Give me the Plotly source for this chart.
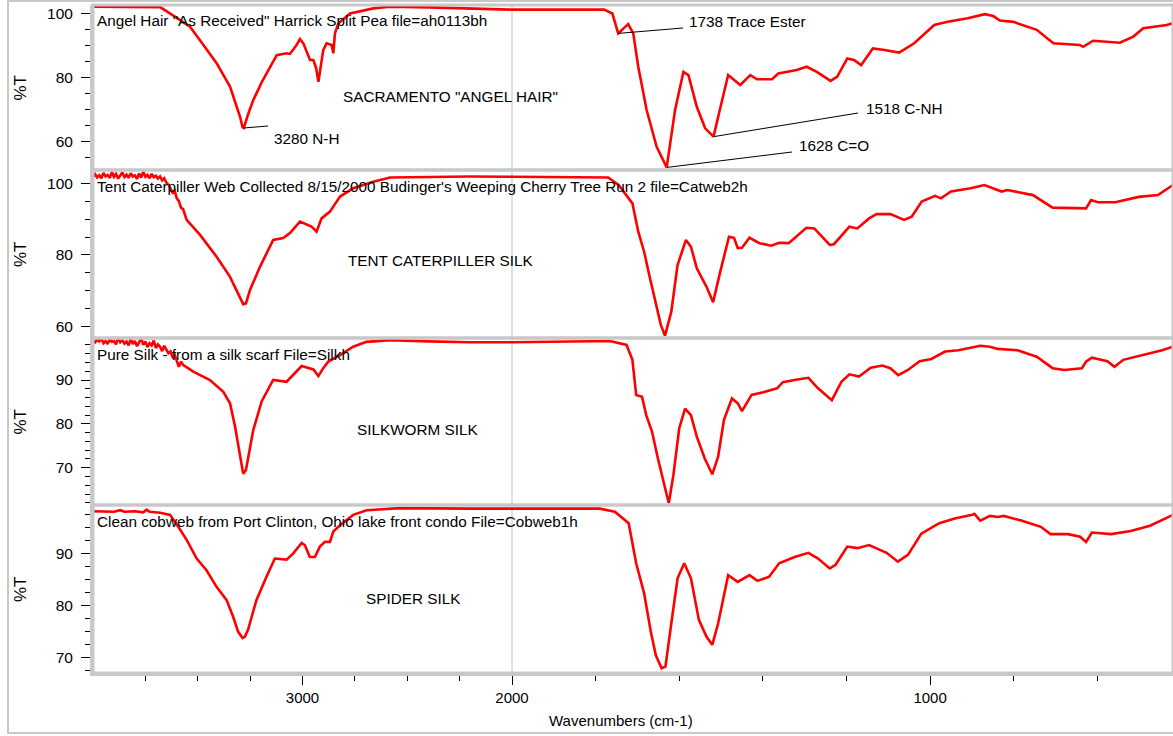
import plotly.graph_objects as go

# ---------------- data ----------------
angel_wn = [4000, 3900, 3800, 3700, 3680, 3620, 3537, 3473, 3410, 3346, 3298, 3286, 3280, 3260, 3235,
            3195, 3155, 3123, 3076, 3060, 3030, 3012, 2996, 2964, 2948, 2935, 2924, 2910, 2901, 2885,
            2861, 2853, 2845, 2829, 2773, 2662, 2582, 2400, 2200, 2000, 1850, 1780, 1760, 1746, 1722,
            1710, 1698, 1678, 1654, 1630, 1610, 1590, 1578, 1558, 1538, 1518, 1503, 1483, 1454, 1430,
            1414, 1378, 1363, 1319, 1295, 1271, 1238, 1222, 1198, 1182, 1165, 1137, 1109, 1074, 1038,
            990, 958, 910, 869, 849, 833, 801, 745, 705, 642, 634, 610, 546, 514, 490, 434, 419]
angel_t = [102.1, 102.1, 102.1, 102.1, 102.0, 99.5, 95.9, 90.2, 84.5, 77.2, 67.8, 64.5, 64.3, 68.5, 73.0,
           78.5, 83.4, 87.0, 87.6, 87.4, 90.0, 92.0, 90.7, 85.5, 85.5, 83.0, 78.7, 85.0, 88.6, 90.7,
           90.2, 87.6, 93.8, 96.9, 100.0, 101.6, 102.1, 101.9, 101.5, 101.2, 101.3, 101.2, 100.0, 93.8, 96.7,
           93.8, 83.4, 69.9, 58.4, 52.0, 69.9, 81.8, 80.8, 70.9, 64.2, 61.6, 69.9, 80.8, 77.7, 80.8,
           79.5, 79.5, 81.3, 82.4, 83.4, 81.8, 79.0, 80.3, 86.0, 85.5, 83.9, 89.1, 88.6, 87.8, 90.7,
           96.4, 97.4, 98.5, 99.8, 99.2, 97.8, 97.4, 94.9, 90.7, 90.2, 89.6, 91.5, 90.9, 92.8, 95.4, 96.4, 97.0]

tent_wn = [4000, 3990, 3980, 3970, 3960, 3950, 3940, 3930, 3920, 3910, 3900, 3890, 3880, 3870, 3860,
           3850, 3840, 3830, 3820, 3810, 3800, 3790, 3780, 3770, 3760, 3750, 3740, 3730, 3720, 3710,
           3700, 3690, 3680, 3670, 3660, 3650, 3640, 3630, 3620, 3610, 3600, 3590, 3580, 3570, 3560,
           3553, 3489, 3410, 3346, 3306, 3283, 3270, 3251, 3203, 3140, 3092, 3060, 3012, 2989, 2957,
           2933, 2909, 2869, 2853, 2821, 2758, 2662, 2582, 2400, 2200, 2000, 1850, 1770, 1745, 1712,
           1698, 1684, 1670, 1656, 1644, 1634, 1619, 1604, 1584, 1572, 1558, 1535, 1519, 1502, 1481,
           1469, 1460, 1450, 1432, 1408, 1380, 1361, 1338, 1296, 1277, 1240, 1230, 1193, 1174, 1146,
           1128, 1095, 1062, 1044, 1020, 988, 974, 950, 903, 870, 847, 829, 815, 754, 707,
           641, 627, 615, 599, 557, 501, 455, 419]
tent_t = [101.8, 102.5, 101.6, 102.2, 101.4, 102.9, 101.9, 102.3, 101.5, 103.1, 101.8, 102.6, 101.3, 102.0, 103.0,
          101.7, 102.4, 101.5, 102.8, 101.9, 102.2, 101.2, 102.7, 101.6, 103.2, 101.8, 102.3, 101.4, 102.6, 101.7,
          102.1, 101.3, 101.9, 100.8, 101.4, 100.2, 99.6, 98.5, 97.4, 97.9, 95.8, 95.0, 93.2, 92.8, 90.6,
          89.8, 85.6, 79.5, 73.9, 69.3, 66.3, 66.5, 70.2, 76.7, 84.2, 84.7, 86.1, 89.3, 88.8, 87.9,
          86.5, 90.2, 92.1, 93.5, 96.3, 98.6, 100.4, 101.6, 101.7, 101.9, 101.8, 101.8, 101.6, 99.5, 94.4,
          86.5, 80.9, 73.5, 66.1, 60.5, 57.5, 64.2, 77.2, 84.2, 82.3, 76.3, 71.2, 66.8, 75.3, 85.1,
          84.8, 81.9, 82.0, 84.8, 83.3, 82.6, 83.4, 83.3, 87.6, 87.4, 82.8, 83.0, 87.9, 87.4, 90.2,
          91.4, 91.4, 89.8, 90.7, 94.9, 96.5, 95.8, 97.7, 98.6, 99.5, 98.6, 97.7, 98.1, 96.7, 93.2,
          93.2, 93.0, 95.3, 94.7, 94.7, 96.2, 96.7, 99.5]

silk_wn = [4000, 3990, 3980, 3970, 3960, 3950, 3940, 3930, 3920, 3910, 3900, 3890, 3880, 3870, 3860,
           3850, 3840, 3830, 3820, 3810, 3800, 3790, 3780, 3770, 3760, 3750, 3740, 3730, 3720, 3710,
           3700, 3690, 3680, 3670, 3660, 3650, 3640, 3630, 3620, 3610, 3600, 3590, 3580, 3569, 3521,
           3442, 3378, 3346, 3322, 3298, 3283, 3270, 3259, 3235, 3195, 3140, 3076, 3044, 3004, 2948,
           2924, 2901, 2877, 2821, 2758, 2695, 2582, 2400, 2200, 2000, 1850, 1766, 1726, 1712, 1703,
           1689, 1679, 1665, 1651, 1637, 1625, 1614, 1600, 1586, 1572, 1558, 1539, 1521, 1507, 1493,
           1474, 1460, 1450, 1427, 1399, 1366, 1352, 1324, 1291, 1268, 1235, 1212, 1193, 1170, 1142,
           1114, 1095, 1076, 1053, 1025, 997, 964, 932, 880, 857, 838, 791, 745, 707, 679,
           637, 627, 613, 576, 559, 538, 482, 445, 419]
silk_t = [99.0, 98.6, 99.2, 98.8, 99.5, 98.4, 98.9, 98.2, 99.3, 98.7, 98.9, 98.1, 99.7, 98.6, 99.1,
          98.3, 98.8, 97.9, 99.4, 98.2, 98.9, 97.7, 98.6, 99.6, 98.0, 98.8, 97.5, 98.4, 97.9, 99.0,
          97.3, 98.1, 97.6, 96.6, 97.8, 96.9, 96.1, 96.5, 95.2, 95.7, 94.4, 93.0, 94.2, 93.4, 91.9,
          90.0, 87.3, 84.7, 79.4, 72.5, 68.6, 69.5, 72.5, 78.6, 85.1, 90.0, 89.6, 91.1, 93.2, 92.4,
          90.9, 92.7, 94.2, 95.7, 97.6, 98.7, 99.1, 98.8, 98.6, 98.6, 98.7, 98.9, 98.0, 94.6, 86.6,
          86.2, 82.0, 78.2, 72.1, 66.8, 61.9, 68.3, 79.0, 83.5, 82.0, 77.1, 72.1, 68.5, 72.5, 80.9,
          85.8, 84.7, 82.9, 86.6, 87.2, 88.1, 89.5, 90.0, 90.5, 88.1, 85.4, 89.6, 91.3, 90.8, 92.8,
          93.3, 92.7, 91.1, 92.3, 94.3, 94.8, 96.5, 96.8, 97.8, 97.6, 97.1, 96.8, 95.3, 92.7, 92.3,
          92.7, 94.2, 95.1, 94.3, 93.0, 94.6, 95.9, 96.8, 97.6]

spider_wn = [4000, 3950, 3900, 3870, 3850, 3800, 3760, 3744, 3730, 3680, 3632, 3593, 3553, 3505, 3459,
             3411, 3362, 3331, 3307, 3286, 3275, 3260, 3220, 3172, 3132, 3076, 3044, 3004, 2989, 2965,
             2941, 2917, 2893, 2869, 2853, 2821, 2758, 2694, 2535, 2200, 2000, 1850, 1790, 1754, 1721,
             1703, 1684, 1668, 1656, 1642, 1633, 1619, 1604, 1588, 1572, 1553, 1535, 1521, 1507, 1483,
             1460, 1432, 1413, 1385, 1361, 1324, 1291, 1268, 1240, 1226, 1198, 1174, 1146, 1104, 1077,
             1053, 1021, 978, 941, 899, 894, 880, 857, 838, 824, 782, 735, 712, 670, 641,
             627, 613, 567, 520, 474, 419]
spider_t = [98.1, 98.1, 98.0, 98.3, 98.0, 98.1, 97.9, 98.4, 98.0, 97.8, 97.4, 95.1, 92.6, 89.0, 86.8,
            83.6, 81.0, 77.8, 74.9, 73.7, 74.0, 75.3, 81.0, 85.5, 89.0, 88.8, 90.0, 92.0, 91.6, 89.3,
            89.3, 91.3, 92.2, 92.2, 94.2, 95.4, 97.4, 98.3, 98.7, 98.6, 98.6, 98.6, 98.6, 98.0, 95.8,
            88.1, 82.3, 74.9, 70.4, 67.9, 68.2, 76.5, 85.2, 88.1, 85.2, 77.2, 74.0, 72.4, 76.5, 85.8,
            84.5, 85.8, 84.7, 85.5, 88.1, 89.3, 90.1, 89.0, 87.1, 87.8, 91.3, 91.0, 91.6, 90.1, 88.4,
            89.7, 93.8, 95.8, 96.7, 97.4, 97.6, 96.3, 97.2, 97.0, 97.2, 96.3, 95.1, 93.7, 93.7, 93.2,
            92.2, 94.0, 93.7, 94.3, 95.3, 97.4]

panel_titles = ['Angel Hair "As Received" Harrick Split Pea file=ah0113bh',
                "Tent Caterpiller Web Collected 8/15/2000 Budinger's Weeping Cherry Tree Run 2 file=Catweb2h",
                "Pure Silk - from a silk scarf File=Silkh",
                "Clean cobweb from Port Clinton, Ohio lake front condo File=Cobweb1h"]
panel_names = ['SACRAMENTO "ANGEL HAIR"', "TENT CATERPILLER SILK", "SILKWORM SILK", "SPIDER SILK"]

peak_labels = [(3280, "3280 N-H"), (1746, "1738 Trace Ester"), (1518, "1518 C-NH"), (1630, "1628 C=O")]

# ---------------- layout geometry ----------------
W, H = 1173, 736
ML, MR, MT, MB = 93, 0, 5, 63
PW = W - ML - MR
PH = H - MT - MB


def fx(xp):
    return (xp - ML) / PW


def fy(yp):
    return (H - MB - yp) / PH


SPLIT = fx(512)
FONT = "Liberation Sans, Arial, sans-serif"
GRAY = "#c8c8c8"
TXT = 15.3

panels = [
    dict(wn=angel_wn, t=angel_t, top=5, bot=170, yr=[51.2, 102.65], dt=20, mdt=5),
    dict(wn=tent_wn, t=tent_t, top=170, bot=338, yr=[56.85, 103.7], dt=20, mdt=5),
    dict(wn=silk_wn, t=silk_t, top=338, bot=505, yr=[61.5, 99.58], dt=10, mdt=2),
    dict(wn=spider_wn, t=spider_t, top=505, bot=673, yr=[66.98, 99.3], dt=10, mdt=2.5),
]


def axname(kind, n):
    return kind + "axis" + ("" if n == 1 else str(n))


def axref(kind, n):
    return kind + ("" if n == 1 else str(n))


fig = go.Figure()
layout = dict(width=W, height=H, margin=dict(l=ML, r=MR, t=MT, b=MB, autoexpand=False),
              paper_bgcolor="white", plot_bgcolor="white", showlegend=False,
              font=dict(family=FONT, size=14, color="black"))
shapes, annotations = [], []

for i, p in enumerate(panels):
    xl, xr, yn = 2 * i + 1, 2 * i + 2, i + 1
    last = i == len(panels) - 1
    left = [(w, t) for w, t in zip(p["wn"], p["t"]) if w >= 2000]
    right = [(w, t) for w, t in zip(p["wn"], p["t"]) if w <= 2000]
    line = dict(color="#ff0000", width=2.6)
    fig.add_trace(go.Scatter(x=[a for a, _ in left], y=[b for _, b in left], mode="lines", line=line,
                             xaxis=axref("x", xl), yaxis=axref("y", yn), hoverinfo="skip"))
    fig.add_trace(go.Scatter(x=[a for a, _ in right], y=[b for _, b in right], mode="lines", line=line,
                             xaxis=axref("x", xr), yaxis=axref("y", yn), hoverinfo="skip"))
    dom = [fy(p["bot"]), fy(p["top"])]
    xcommon = dict(showgrid=False, zeroline=False, anchor=axref("y", yn), fixedrange=True, automargin=False)
    if last:
        layout[axname("x", xl)] = dict(
            domain=[0, SPLIT], range=[4000, 2000], **xcommon,
            showline=True, linecolor=GRAY, linewidth=3,
            ticks="outside", ticklen=9, tickcolor="black", tickwidth=1,
            tickmode="array", tickvals=[3000], ticktext=["3000"],
            tickfont=dict(size=15, family=FONT, color="black"),
            minor=dict(tickmode="array", tickvals=[3750, 3500, 3250, 2750, 2500, 2250],
                       ticks="outside", ticklen=5, tickcolor="black", tickwidth=1))
        layout[axname("x", xr)] = dict(
            domain=[SPLIT, 1], range=[2000, 419], **xcommon,
            showline=True, linecolor=GRAY, linewidth=3,
            ticks="outside", ticklen=9, tickcolor="black", tickwidth=1,
            tickmode="array", tickvals=[2000, 1000], ticktext=["2000", "1000"],
            tickfont=dict(size=15, family=FONT, color="black"),
            minor=dict(tickmode="array", tickvals=[1800, 1600, 1400, 1200, 800, 600],
                       ticks="outside", ticklen=5, tickcolor="black", tickwidth=1))
    else:
        layout[axname("x", xl)] = dict(domain=[0, SPLIT], range=[4000, 2000], showticklabels=False, **xcommon)
        layout[axname("x", xr)] = dict(domain=[SPLIT, 1], range=[2000, 419], showticklabels=False, **xcommon)
    layout[axname("y", yn)] = dict(
        domain=dom, range=p["yr"], anchor=axref("x", xl), showgrid=False, zeroline=False, fixedrange=True,
        automargin=False, showline=True, linecolor=GRAY, linewidth=3,
        ticks="outside", ticklen=9, tickcolor="black", tickwidth=1, tick0=0, dtick=p["dt"],
        ticklabelstandoff=5,
        tickfont=dict(size=15.5, family=FONT, color="black"),
        minor=dict(tick0=0, dtick=p["mdt"], ticks="outside", ticklen=5, tickcolor="black", tickwidth=1))
    # panel frame
    shapes.append(dict(type="rect", xref="paper", yref="paper", x0=0, x1=1, y0=dom[0], y1=dom[1],
                       line=dict(color=GRAY, width=3), layer="above"))
    # texts
    annotations.append(dict(text=panel_titles[i], xref="paper", yref="paper", x=fx(95), y=fy(p["top"] + 16),
                            xanchor="left", yanchor="middle", showarrow=False, font=dict(size=TXT)))
    annotations.append(dict(text="%T", xref="paper", yref="paper", x=fx(20), y=fy((p["top"] + p["bot"]) / 2),
                            xanchor="center", yanchor="middle", textangle=-90, showarrow=False,
                            font=dict(size=17)))

name_pos = [(341, 96), (346, 260), (355, 429), (364, 598)]
for (xp, yp), nm in zip(name_pos, panel_names):
    annotations.append(dict(text=nm, xref="paper", yref="paper", x=fx(xp), y=fy(yp), xanchor="left",
                            yanchor="middle", showarrow=False, font=dict(size=TXT)))

# peak labels in panel 1 with leader lines (start at the data point of the peak)
label_geom = {3280: ((268, 126), (272, 138)), 1746: ((683, 28), (687, 22)),
              1518: ((858, 113), (864, 108)), 1630: ((792, 152), (797, 146))}
for wn, txt in peak_labels:
    idx = angel_wn.index(wn)
    tval = angel_t[idx]
    (lx, ly), (tx, ty) = label_geom[wn]
    shapes.append(dict(type="line", xref="paper", yref="paper",
                       x0=fx(93 + (4000 - wn) / 4.773) if wn >= 2000 else fx(512 + (2000 - wn) * 0.4182),
                       y0=fy(5) - (102.65 - tval) / (102.65 - 51.2) * (fy(5) - fy(170)),
                       x1=fx(lx), y1=fy(ly), line=dict(color="black", width=1), layer="above"))
    annotations.append(dict(text=txt, xref="paper", yref="paper", x=fx(tx), y=fy(ty), xanchor="left",
                            yanchor="middle", showarrow=False, font=dict(size=TXT)))

# vertical divider at the scale change and outer frame
shapes.append(dict(type="line", xref="paper", yref="paper", x0=SPLIT, x1=SPLIT, y0=0, y1=1,
                   line=dict(color="#c0c0c0", width=1), layer="below"))
shapes.append(dict(type="rect", xref="paper", yref="paper", x0=fx(8), x1=fx(1190), y0=fy(733), y1=fy(1),
                   line=dict(color=GRAY, width=2), layer="below"))

annotations.append(dict(text="Wavenumbers (cm-1)", xref="paper", yref="paper", x=fx(547), y=fy(720),
                        xanchor="left", yanchor="middle", showarrow=False, font=dict(size=15)))

layout["shapes"] = shapes
layout["annotations"] = annotations
fig.update_layout(**layout)
fig.write_html("out.html", config={"displayModeBar": False, "staticPlot": True},
               post_script="document.body.style.margin='0';document.body.style.padding='0';"
                           "document.documentElement.style.overflow='hidden';")
